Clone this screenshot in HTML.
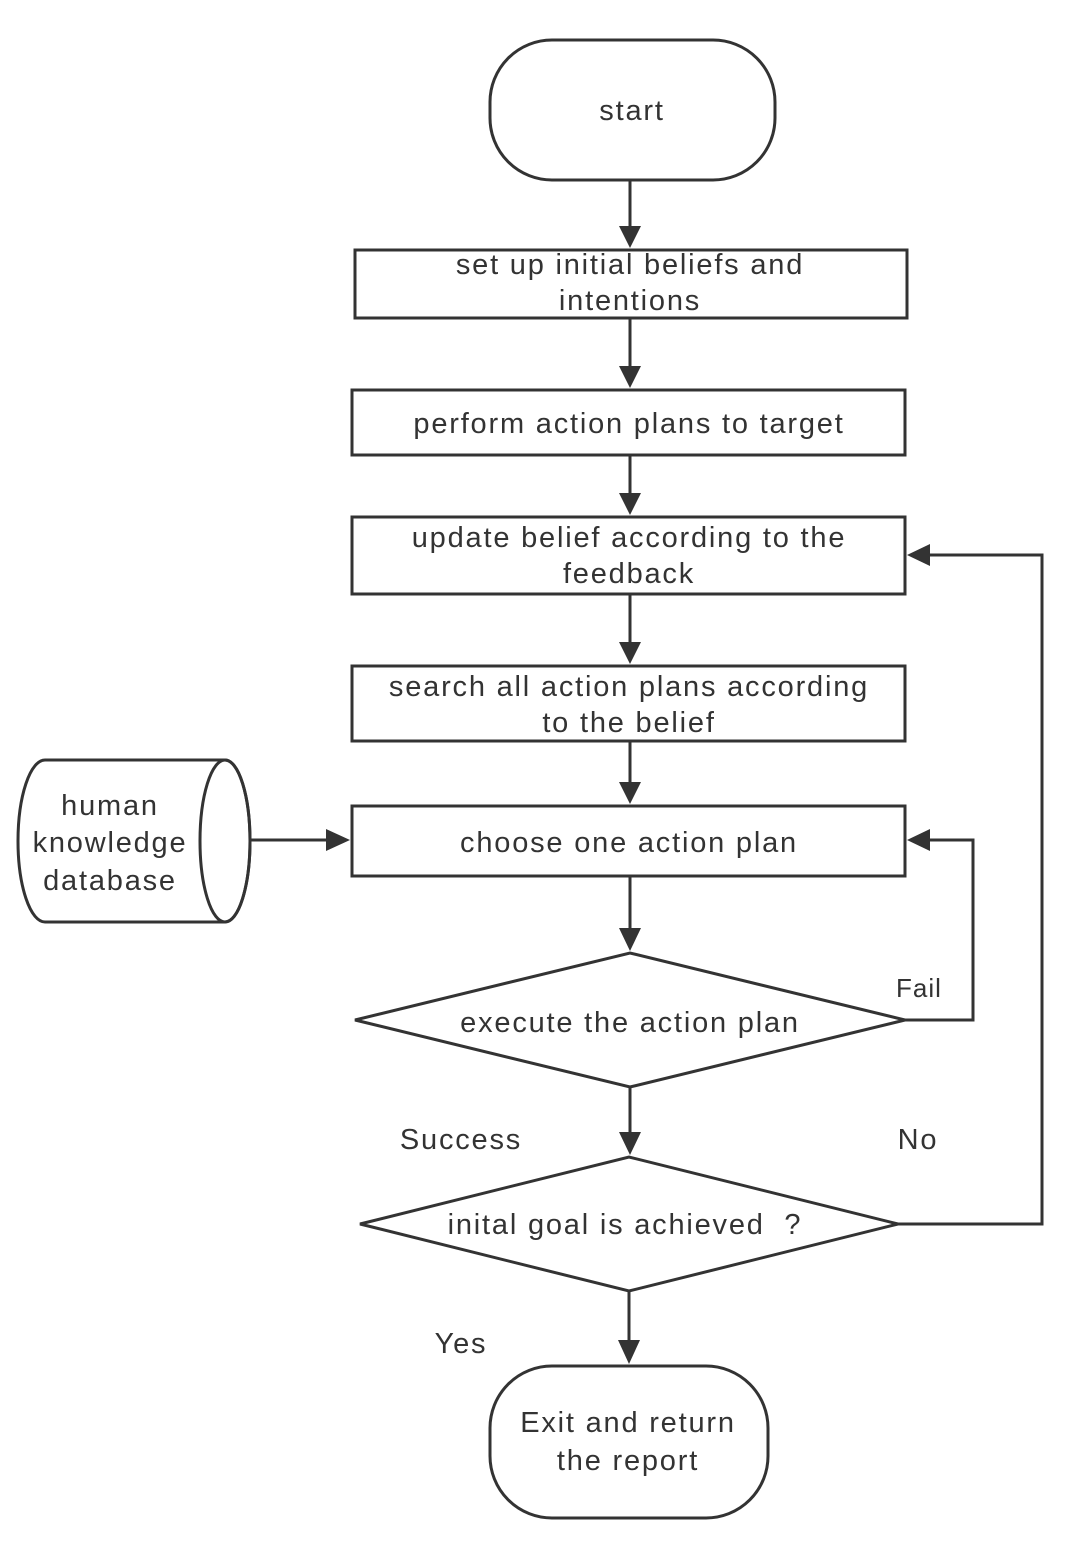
<!DOCTYPE html>
<html><head><meta charset="utf-8"><style>
html,body{margin:0;padding:0;background:#fff;}
svg{display:block}
text{font-family:"Liberation Sans",sans-serif;font-size:29px;letter-spacing:1.8px;fill:#333;text-anchor:middle}
</style></head><body>
<svg width="1080" height="1562" viewBox="0 0 1080 1562" xmlns="http://www.w3.org/2000/svg">
<g fill="none" stroke="#333" stroke-width="3">
<rect x="490" y="40" width="285" height="140" rx="62"/>
<rect x="355" y="250" width="552" height="68"/>
<rect x="352" y="390" width="553" height="65"/>
<rect x="352" y="517" width="553" height="77"/>
<rect x="352" y="666" width="553" height="75"/>
<rect x="352" y="806" width="553" height="70"/>
<polygon points="355,1020 630,953 905,1020 630,1087"/>
<polygon points="360,1224 629,1157 898,1224 629,1291"/>
<rect x="490" y="1366" width="278" height="152" rx="62"/>
<path d="M45,760 H225 A25,81 0 0 1 225,922 H45 A27,81 0 0 1 45,760 Z"/>
<ellipse cx="225" cy="841" rx="25" ry="81"/>
<line x1="630" y1="180" x2="630" y2="228"/>
<line x1="630" y1="318" x2="630" y2="368"/>
<line x1="630" y1="455" x2="630" y2="495"/>
<line x1="630" y1="594" x2="630" y2="644"/>
<line x1="630" y1="741" x2="630" y2="784"/>
<line x1="630" y1="876" x2="630" y2="930"/>
<line x1="630" y1="1087" x2="630" y2="1134"/>
<line x1="629" y1="1291" x2="629" y2="1342"/>
<line x1="250" y1="840" x2="328" y2="840"/>
<polyline points="905,1020 973,1020 973,840 928,840"/>
<polyline points="898,1224 1042,1224 1042,555 928,555"/>
</g>
<g fill="#333">
<polygon points="619,226 641,226 630,248"/>
<polygon points="619,366 641,366 630,388"/>
<polygon points="619,493 641,493 630,515"/>
<polygon points="619,642 641,642 630,664"/>
<polygon points="619,782 641,782 630,804"/>
<polygon points="619,928 641,928 630,951"/>
<polygon points="619,1132 641,1132 630,1155"/>
<polygon points="618,1340 640,1340 629,1364"/>
<polygon points="326,829 326,851 350,840"/>
<polygon points="930,829 930,851 907,840"/>
<polygon points="930,544 930,566 907,555"/>
</g>
<text x="632" y="120">start</text>
<text x="630" y="274">set up initial beliefs and</text>
<text x="630" y="310">intentions</text>
<text x="629" y="433">perform action plans to target</text>
<text x="629" y="547">update belief according to the</text>
<text x="629" y="583">feedback</text>
<text x="629" y="696">search all action plans according</text>
<text x="629" y="732">to the belief</text>
<text x="629" y="852">choose one action plan</text>
<text x="630" y="1032">execute the action plan</text>
<text x="625" y="1234">inital goal is achieved&#160;&#160;?</text>
<text x="628" y="1432">Exit and return</text>
<text x="628" y="1470">the report</text>
<text x="110" y="815">human</text>
<text x="110" y="852">knowledge</text>
<text x="110" y="890">database</text>
<text x="919" y="997" style="font-size:26px;letter-spacing:1px">Fail</text>
<text x="918" y="1149">No</text>
<text x="461" y="1149">Success</text>
<text x="461" y="1353">Yes</text>
</svg>
</body></html>
